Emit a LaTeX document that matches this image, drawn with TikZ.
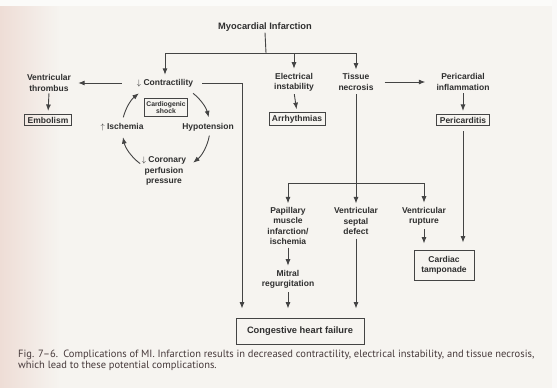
\documentclass[tikz,border=0pt]{standalone}
\usepackage{fontspec}
\setmainfont{Liberation Sans}
\newfontfamily\capfont[Ligatures=TeX]{PT Sans}
\usetikzlibrary{arrows.meta}

\definecolor{paper}{HTML}{F6F4F0}
\definecolor{tint}{HTML}{EEDDD6}
\definecolor{ink}{HTML}{2F2F2F}
\definecolor{wire}{HTML}{444444}
\definecolor{capink}{HTML}{46393A}

\tikzset{
  lbl/.style={font=\bfseries\fontsize{8.5}{10.2}\selectfont, text=ink, align=center, inner sep=1pt},
  boxed/.style={lbl, draw=wire, line width=0.8pt, inner xsep=3pt, inner ysep=2.5pt},
  wireline/.style={draw=wire, line width=0.9pt},
  arr/.style={wireline, -{Latex[length=6.5pt,width=5pt]}, shorten >=3pt},
  captext/.style={anchor=west, inner sep=0pt, text=capink, font=\capfont\fontsize{10.5}{11}\selectfont},
}

\begin{document}
\begin{tikzpicture}[x=1pt, y=-1pt]
  % page and scan margins
  \useasboundingbox (0,0) rectangle (557,388);
  \fill[paper] (0,0) rectangle (557,388);
  \fill[white!60!paper] (0,0) rectangle (557,6);
  \shade[left color=tint, right color=paper] (0,6) rectangle (60,388);
  \fill[white!50!paper] (552,0) rectangle (557,388);

  % top level
  \node[lbl, font=\bfseries\fontsize{9.3}{11}\selectfont] (mi) at (265,27) {Myocardial Infarction};
  \coordinate (bus) at (266,53);

  % left branch: contractility and the cardiogenic-shock cycle
  \node[lbl] (contr) at (165,83) {$\downarrow$ Contractility};
  \node[lbl] (thromb) at (49,83) {Ventricular\\thrombus};
  \node[boxed] (emb) at (48,120) {Embolism};
  \node[boxed, font=\bfseries\fontsize{6.8}{7.8}\selectfont, inner xsep=2pt] (shock) at (166,107.5) {Cardiogenic\\shock};
  \node[lbl] (hypo) at (208,127) {Hypotension};
  \node[lbl] (isch) at (122,127) {$\uparrow$ Ischemia};
  \node[lbl] (coron) at (164,171) {$\downarrow$ Coronary\\perfusion\\pressure};
  \coordinate (cyc) at (166,128);
  \coordinate (cbend) at (242,83);

  % middle branches
  \node[lbl] (elec) at (294,82) {Electrical\\instability};
  \node[boxed] (arrh) at (297,119) {Arrhythmias};
  \node[lbl] (tissue) at (356,82) {Tissue\\necrosis};
  \coordinate (tbus) at (356,183);

  % pericardial branch
  \node[lbl] (peri) at (463,82) {Pericardial\\inflammation};
  \node[boxed] (pcard) at (463,120) {Pericarditis};

  % mechanical complications
  \node[lbl] (papil) at (288,226) {Papillary\\muscle\\infarction/\\ischemia};
  \node[lbl] (mitral) at (288,279) {Mitral\\regurgitation};
  \node[lbl] (septal) at (356,221) {Ventricular\\septal\\defect};
  \node[lbl] (rupture) at (424,216) {Ventricular\\rupture};
  \node[boxed, minimum width=60pt, minimum height=30pt] (tamp) at (444,265) {Cardiac\\tamponade};
  \node[boxed, font=\bfseries\fontsize{9.3}{11}\selectfont, minimum width=128pt, minimum height=26pt] (chf) at (300,331) {Congestive heart failure};

  % connectors from the top
  \draw[wireline] (mi.south) -- (bus);
  \draw[arr] (bus) -| (contr.north);
  \draw[arr] (bus) -| (tissue.north);
  \draw[arr] (elec.north |- bus) -- (elec.north);

  % contractility outputs
  \draw[arr, shorten <=14pt, shorten >=6pt] (contr.west) -- (thromb.east);
  \draw[arr, shorten <=1pt] (thromb.south) -- (emb.north);
  \draw[wireline, shorten <=8pt] (contr.east) -- (cbend);
  \draw[arr, shorten >=9pt] (cbend) -- (cbend |- chf.north);

  % vicious cycle
  \draw[arr, shorten >=0pt] ([shift={(52:44pt)}]cyc) arc[start angle=52, end angle=14, radius=44pt];
  \draw[arr, shorten >=0pt] ([shift={(-10:44pt)}]cyc) arc[start angle=-10, end angle=-52, radius=44pt];
  \draw[arr, shorten >=0pt] ([shift={(-126:44pt)}]cyc) arc[start angle=-126, end angle=-168, radius=44pt];
  \draw[arr, shorten >=0pt] ([shift={(166:44pt)}]cyc) arc[start angle=166, end angle=128, radius=44pt];

  % electrical instability
  \draw[arr, shorten <=2pt] (elec.south) -- (arrh.north);

  % tissue necrosis
  \draw[arr, shorten <=10pt, shorten >=10pt] (tissue.east) -- (peri.west);
  \draw[wireline, shorten <=3pt] (tissue.south) -- (tbus);
  \draw[wireline] (papil.north |- tbus) -- (rupture.north |- tbus);
  \draw[arr] (papil.north |- tbus) -- (papil.north);
  \draw[arr] (tbus) -- (septal.north);
  \draw[arr] (rupture.north |- tbus) -- (rupture.north);

  % pericardial branch
  \draw[arr, shorten <=2pt] (peri.south) -- (pcard.north);
  \draw[arr, shorten <=5pt, shorten >=7pt] (pcard.south) -- (pcard.south |- tamp.north);
  \draw[arr, shorten <=3pt, shorten >=6pt] (rupture.south) -- (rupture.south |- tamp.north);

  % into congestive heart failure
  \draw[arr, shorten <=2pt] (papil.south) -- (mitral.north);
  \draw[arr, shorten <=3pt, shorten >=9pt] (mitral.south) -- (mitral.south |- chf.north);
  \draw[arr, shorten <=3pt, shorten >=9pt] (septal.south) -- (septal.south |- chf.north);

  % caption
  \node[captext] (cap1) at (18,355)
    {Fig. 7–6.\enspace Complications of MI. Infarction results in decreased contractility, electrical instability, and tissue necrosis,};
  \node[captext] (cap2) at (18,366)
    {which lead to these potential complications.};
\end{tikzpicture}
\end{document}
